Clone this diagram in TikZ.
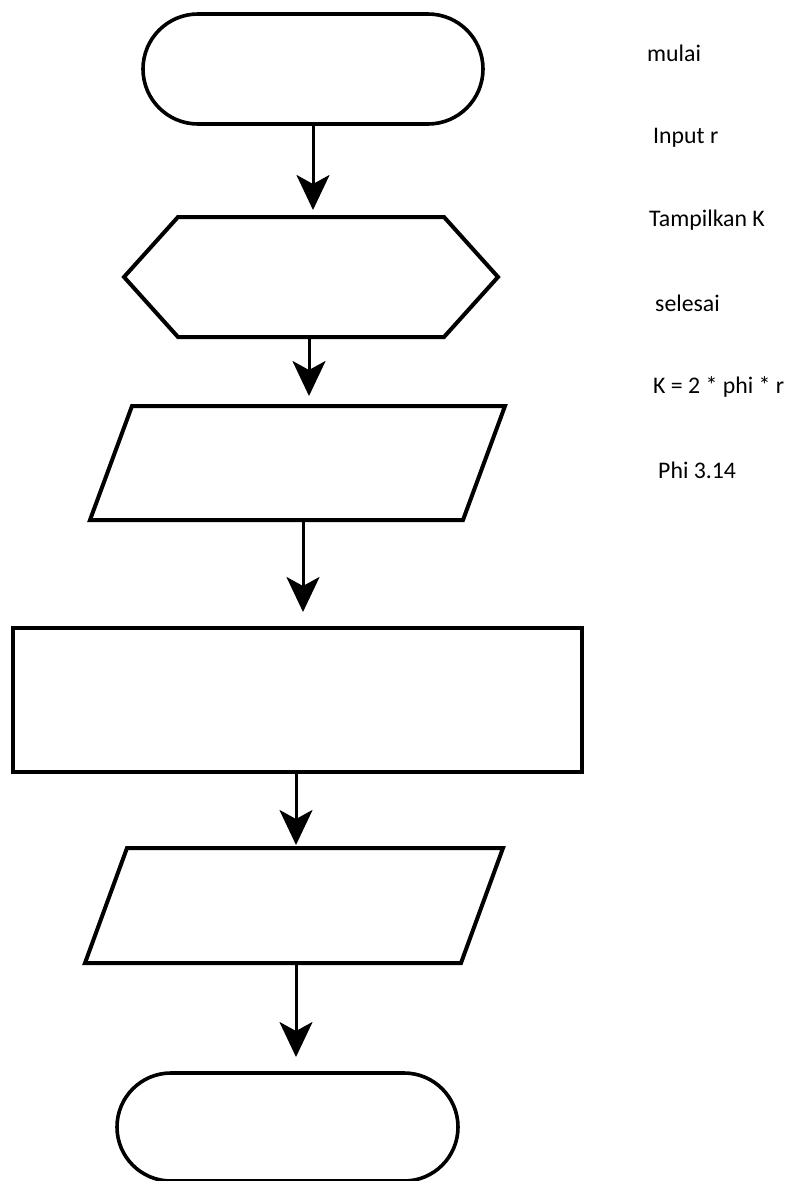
\documentclass[tikz,border=0pt]{standalone}
\usepackage{fontspec}
\setmainfont{Carlito}
\usetikzlibrary{arrows.meta}
\tikzset{
  box/.style={draw=none, inner sep=0pt, outer sep=0pt},
  outline/.style={line width=4pt, line join=miter},
  term/.style={draw, line width=3.6pt, rounded corners=#1, inner sep=0pt, outer sep=0pt},
  arr/.style={line width=3pt, -{Stealth[length=35pt,width=33pt,inset=9pt]}},
  lbl/.style={anchor=west, inner sep=0pt, font=\fontsize{23.8}{26}\selectfont}
}
\begin{document}
\begin{tikzpicture}[x=1pt,y=-1pt]
\useasboundingbox (0,0) rectangle (786,1181);
% start terminal
\node[term=55pt, minimum width=340pt, minimum height=110pt] (t1) at (313,69) {};
% hexagon
\node[box, minimum width=374pt, minimum height=120pt] (hex) at (311,277) {};
\draw[outline] (hex.west) -- ([xshift=54pt]hex.north west) -- ([xshift=-54pt]hex.north east)
  -- (hex.east) -- ([xshift=-54pt]hex.south east) -- ([xshift=54pt]hex.south west) -- cycle;
% parallelogram 1
\node[box, minimum width=415pt, minimum height=114pt] (p1) at (297.5,463) {};
\draw[outline] ([xshift=42pt]p1.north west) -- (p1.north east) -- ([xshift=-42pt]p1.south east)
  -- (p1.south west) -- cycle;
% process rectangle
\node[box, minimum width=569pt, minimum height=144pt] (rect) at (297.5,700) {};
\draw[outline] (rect.north west) rectangle (rect.south east);
% parallelogram 2
\node[box, minimum width=418pt, minimum height=115pt] (p2) at (294,905.5) {};
\draw[outline] ([xshift=42pt]p2.north west) -- (p2.north east) -- ([xshift=-42pt]p2.south east)
  -- (p2.south west) -- cycle;
% end terminal
\node[term=54pt, minimum width=341pt, minimum height=108pt] (t2) at (287.5,1127) {};
% connectors
\draw[arr, shorten >=7pt] (t1.south) -- (t1.south |- hex.north);
\draw[arr, shorten >=10pt] ([xshift=-2pt]hex.south) -- ([xshift=-2pt]hex.south |- p1.north);
\coordinate (a3) at (303,0);
\draw[arr, shorten >=16pt] (a3 |- p1.south) -- (a3 |- rect.north);
\coordinate (a4) at (296,0);
\draw[arr, shorten >=3pt] (a4 |- rect.south) -- (a4 |- p2.north);
\draw[arr, shorten >=16pt] (a4 |- p2.south) -- (a4 |- t2.north);
% labels
\node[lbl] (l1) at (647,53) {mulai};
\node[lbl] (l2) at (653,138) {Input r};
\node[lbl] (l3) at (649,220) {Tampilkan K};
\node[lbl] (l4) at (655,303) {selesai};
\node[lbl] (l5) at (653,387) {K = 2 * phi * r};
\node[lbl] (l6) at (658,470) {Phi 3.14};
\end{tikzpicture}
\end{document}
